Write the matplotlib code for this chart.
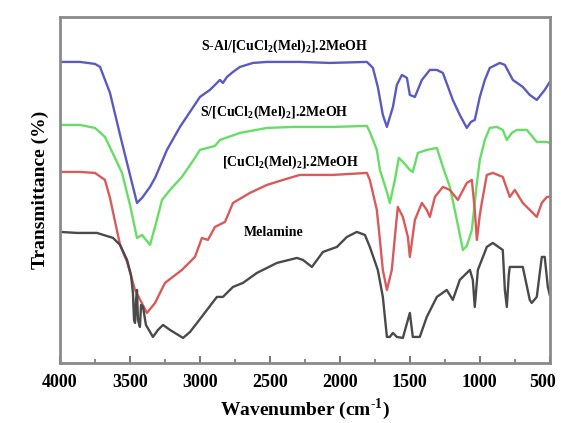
import matplotlib
matplotlib.use("Agg")
import matplotlib.pyplot as plt
from matplotlib.ticker import MultipleLocator
from matplotlib.transforms import ScaledTranslation

plt.rcParams['font.family'] = ['Liberation Serif', 'DejaVu Serif']
plt.rcParams['font.weight'] = 'bold'
plt.rcParams['mathtext.fontset'] = 'custom'
plt.rcParams['mathtext.rm'] = 'Liberation Serif:bold'
plt.rcParams['mathtext.bf'] = 'Liberation Serif:bold'

# ---- data (wavenumber cm-1, transmittance a.u.) ----
sal_wn = [4000, 3857, 3750, 3714, 3643, 3571, 3500, 3450, 3414, 3357, 3321, 3236, 3143, 3000,
          2929, 2907, 2857, 2836, 2807, 2764, 2714, 2621, 2521, 2286, 2071, 1807, 1764, 1729,
          1693, 1664, 1621, 1593, 1557, 1521, 1500, 1464, 1414, 1357, 1307, 1264, 1193, 1143,
          1093, 1064, 1036, 1000, 964, 929, 857, 821, 764, 693, 643, 593, 536, 500]
sal_t = [301, 301, 299, 296, 270, 228, 188, 160, 165, 176, 185, 213, 236, 266,
         273, 276, 283, 280, 286, 291, 296, 300, 301, 301, 300, 301, 295, 276,
         248, 236, 256, 278, 288, 285, 268, 266, 283, 293, 293, 290, 263, 248,
         235, 241, 243, 266, 283, 295, 300, 298, 283, 276, 268, 263, 273, 281]

s_wn = [4000, 3857, 3750, 3679, 3607, 3557, 3500, 3450, 3414, 3386, 3357, 3321, 3271, 3214,
        3129, 3036, 3000, 2893, 2857, 2714, 2521, 2336, 2050, 1807, 1786, 1736, 1714, 1664,
        1643, 1607, 1579, 1543, 1500, 1479, 1443, 1379, 1307, 1264, 1214, 1164, 1121, 1093,
        1057, 1021, 1000, 964, 929, 879, 836, 807, 771, 736, 664, 593, 521, 500]
s_t = [238, 238, 235, 226, 205, 190, 158, 125, 128, 123, 118, 136, 163, 173,
       186, 205, 213, 217, 223, 230, 235, 236, 236, 237, 231, 213, 193, 171,
       160, 183, 205, 200, 193, 191, 210, 213, 215, 196, 176, 143, 113, 117,
       133, 180, 203, 223, 235, 236, 233, 223, 230, 233, 233, 221, 221, 220]

cu_wn = [4000, 3857, 3750, 3679, 3643, 3571, 3521, 3464, 3379, 3321, 3250, 3129, 3036, 2986,
         2943, 2893, 2821, 2764, 2643, 2521, 2407, 2286, 2050, 1807, 1786, 1736, 1714, 1693,
         1664, 1629, 1607, 1586, 1550, 1514, 1500, 1464, 1414, 1379, 1357, 1321, 1264, 1214,
         1157, 1093, 1057, 1036, 1021, 1000, 986, 950, 907, 836, 786, 750, 693, 593, 557,
         521, 500]
cu_t = [191, 191, 190, 183, 165, 118, 101, 73, 50, 60, 80, 93, 106, 125,
        123, 136, 141, 160, 170, 178, 183, 188, 188, 190, 183, 153, 123, 93,
        73, 93, 126, 156, 146, 126, 106, 143, 160, 153, 146, 166, 176, 173,
        163, 180, 183, 153, 123, 148, 160, 188, 190, 186, 166, 173, 160, 146, 160,
        166, 166]

mel_wn = [4000, 3879, 3736, 3621, 3571, 3521, 3493, 3479, 3471, 3464, 3457, 3450, 3443, 3429,
          3421, 3407, 3386, 3336, 3300, 3264, 3214, 3121, 3071, 3021, 2950, 2879, 2836, 2764,
          2693, 2593, 2450, 2307, 2264, 2200, 2121, 2021, 1950, 1879, 1821, 1786, 1729, 1693,
          1664, 1643, 1621, 1593, 1550, 1514, 1500, 1479, 1429, 1379, 1307, 1236, 1193, 1143,
          1071, 1050, 1036, 1014, 950, 907, 857, 836, 821, 807, 793, 786, 736, 693, 643, 629,
          593, 557, 536, 514, 500]
mel_t = [131, 130, 130, 125, 118, 103, 88, 70, 43, 40, 63, 73, 43, 36,
         58, 56, 38, 26, 33, 38, 33, 25, 31, 40, 53, 66, 66, 76,
         80, 90, 100, 105, 103, 96, 111, 116, 126, 131, 128, 116, 93, 66,
         26, 26, 30, 26, 25, 43, 50, 26, 26, 46, 66, 73, 63, 83,
         93, 83, 56, 93, 116, 120, 115, 113, 73, 56, 88, 96, 96, 96, 63, 60,
         66, 106, 106, 76, 68]

labels = ["S-Al/[CuCl$\\mathregular{_2}$(Mel)$\\mathregular{_2}$].2MeOH",
          "S/[CuCl$\\mathregular{_2}$(Mel)$\\mathregular{_2}$].2MeOH",
          "[CuCl$\\mathregular{_2}$(Mel)$\\mathregular{_2}$].2MeOH",
          "Melamine"]
label_x = [2393, 2471, 2350, 2471]
label_y = [317, 251, 201, 130]

xticks = [4000, 3500, 3000, 2500, 2000, 1500, 1000, 500]

colors = ['#5a5ac0', '#66de66', '#d95a5a', '#4a4a4a']

fig = plt.figure(figsize=(5.61, 4.23), dpi=100)
ax = fig.add_axes([0.107, 0.142, 0.873, 0.818])

series = [(sal_wn, sal_t), (s_wn, s_t), (cu_wn, cu_t), (mel_wn, mel_t)]
for (wn, t), c in zip(series, colors):
    ax.plot(wn, t, color=c, lw=1.7, solid_joinstyle='round')

for txt, lx, ly in zip(labels, label_x, label_y):
    ax.text(lx, ly, txt, ha='center', va='center', fontsize=10, fontweight='bold')

ax.set_xlim(4000, 500)
ax.set_ylim(0, 346)
ax.set_xticks(xticks)
ax.set_xticklabels([str(v) for v in xticks])
ax.xaxis.set_minor_locator(MultipleLocator(250))
ax.set_yticks([])
ax.tick_params(axis='x', which='major', direction='in', length=5, width=1.5,
               color='#777777', labelsize=13, pad=8)
ax.tick_params(axis='x', which='minor', direction='in', length=3, width=1.2, color='#777777')
for lab in ax.get_xticklabels():
    lab.set_fontweight('bold')
last = ax.get_xticklabels()[-1]
last.set_transform(last.get_transform() + ScaledTranslation(-7 / 100, 0, fig.dpi_scale_trans))
for sp in ax.spines.values():
    sp.set_color('#8a8a8a')
    sp.set_linewidth(2)

ax.set_xlabel("Wavenumber (cm$^{\\text{-1}}$)", fontsize=14, fontweight='bold', labelpad=4)
ax.set_ylabel("Transmittance (%)", fontsize=14, fontweight='bold', labelpad=8)

fig.savefig("out.png", dpi=100)
